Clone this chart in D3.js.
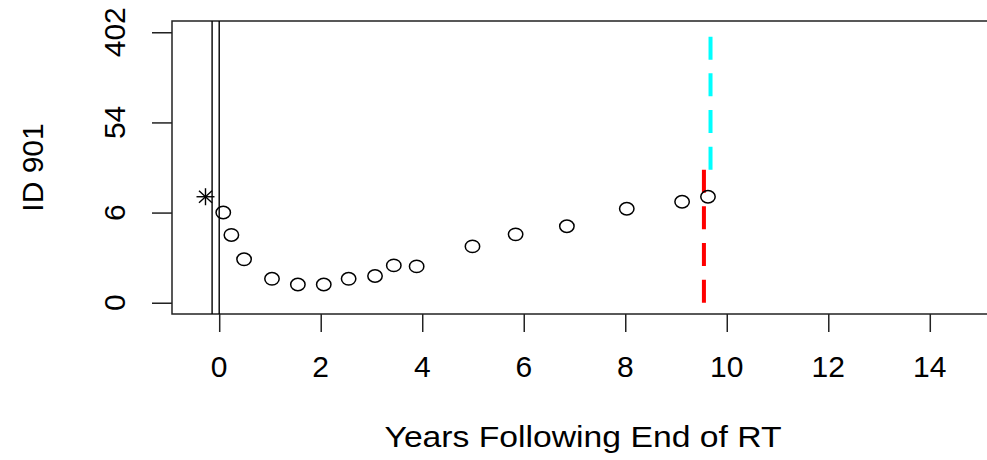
<!DOCTYPE html>
<html>
<head>
<meta charset="utf-8">
<script src="https://cdn.jsdelivr.net/npm/d3@7"></script>
<style>
  html, body { margin: 0; padding: 0; background: #fff; }
  svg { display: block; }
  text { font-family: "Liberation Sans", Arial, sans-serif; fill: #000; }
</style>
</head>
<body>
<div id="chart"></div>
<script>
// PSA follow-up for one patient, years after the end of radiotherapy
const patientId = "ID 901";
const followYears = [0.08, 0.24, 0.49, 1.04, 1.55, 2.06, 2.55, 3.07, 3.44, 3.89, 4.99, 5.84, 6.85, 8.03, 9.12, 9.63];
const psaValues   = [6.4, 3.5, 1.62, 0.70, 0.50, 0.50, 0.70, 0.81, 1.29, 1.24, 2.49, 3.56, 4.45, 7.05, 8.4, 9.5];
const baselineYear = [-0.27];
const baselinePsa  = [9.5];
const rtMarkers = [-0.14, 0];          // start / end of radiotherapy
const eventRed  = { year: 9.55, from: 0,     to: 18.1 };
const eventCyan = { year: 9.68, from: 18.1,  to: 402.4 };
const xTickValues = [0, 2, 4, 6, 8, 10, 12, 14];
const yTickLogs   = [0, 2, 4, 6];
const xTitle = "Years Following End of RT";

const W = 987, H = 460;
const plot = { left: 172, top: 21, right: 1011, bottom: 314 };
const fontSize = 30;

const svg = d3.select("#chart").append("svg")
  .attr("width", W).attr("height", H);

const x = d3.scaleLinear().domain([-0.93, 15.6]).range([plot.left, plot.right]);
const yLog = d3.scaleLinear().domain([-0.25, 6.25]).range([plot.bottom, plot.top]);
const y = v => yLog(Math.log1p(v));

// plot frame
svg.append("rect")
  .attr("x", plot.left).attr("y", plot.top)
  .attr("width", plot.right - plot.left).attr("height", plot.bottom - plot.top)
  .attr("fill", "none").attr("stroke", "#222").attr("stroke-width", 1.5);

// x axis
const xAxis = d3.axisBottom(x).tickValues(xTickValues).tickSize(18).tickPadding(0).tickFormat(d3.format("d"));
const gx = svg.append("g").attr("transform", `translate(0,${plot.bottom})`).call(xAxis);
gx.select(".domain").remove();
gx.selectAll(".tick line").attr("stroke", "#222").attr("stroke-width", 1.5);
gx.selectAll(".tick text").remove();
svg.append("g").selectAll("text").data(xTickValues).join("text")
  .attr("transform", d => `translate(${x(d)},377)`)
  .attr("text-anchor", "middle").attr("font-size", fontSize)
  .text(d => d);

// y axis (log(PSA+1) scale, labelled in PSA units)
const yAxis = d3.axisLeft(yLog).tickValues(yTickLogs).tickSize(20).tickFormat("");
const gy = svg.append("g").attr("transform", `translate(${plot.left},0)`).call(yAxis);
gy.select(".domain").remove();
gy.selectAll(".tick line").attr("stroke", "#222").attr("stroke-width", 1.5);
svg.append("g").selectAll("text").data(yTickLogs).join("text")
  .attr("transform", d => `translate(125,${yLog(d)}) rotate(-90)`)
  .attr("text-anchor", "middle").attr("font-size", fontSize)
  .text(d => Math.round(Math.expm1(d)));

// axis titles
svg.append("text")
  .attr("transform", `translate(583,447)`)
  .attr("text-anchor", "middle").attr("font-size", fontSize)
  .attr("textLength", 397).attr("lengthAdjust", "spacingAndGlyphs")
  .text(xTitle);
svg.append("text")
  .attr("transform", `translate(43,${(plot.top + plot.bottom) / 2}) rotate(-90)`)
  .attr("text-anchor", "middle").attr("font-size", fontSize)
  .text(patientId);

// radiotherapy markers
svg.append("g").selectAll("line").data(rtMarkers).join("line")
  .attr("x1", d => x(d)).attr("x2", d => x(d))
  .attr("y1", plot.top).attr("y2", plot.bottom)
  .attr("stroke", "#000").attr("stroke-width", 1.4);

// event segments
[[eventRed, "#ff0000"], [eventCyan, "#00ffff"]].forEach(([e, c]) => {
  svg.append("line")
    .attr("x1", x(e.year)).attr("x2", x(e.year))
    .attr("y1", y(e.from)).attr("y2", y(e.to))
    .attr("stroke", c).attr("stroke-width", 4)
    .attr("stroke-dasharray", "23,13.7");
});

// PSA observations
svg.append("g").selectAll("ellipse").data(followYears).join("ellipse")
  .attr("cx", d => x(d)).attr("cy", (d, i) => y(psaValues[i]))
  .attr("rx", 7.2).attr("ry", 6.2)
  .attr("fill", "none").attr("stroke", "#000").attr("stroke-width", 1.5);

// pre-treatment baseline (asterisk)
const star = svg.append("g").selectAll("g").data(baselineYear).join("g")
  .attr("transform", (d, i) => `translate(${x(d)},${y(baselinePsa[i])})`);
const arms = [[-9, 0, 9, 0], [0, -8.5, 0, 8.5], [-6.5, -6, 6.5, 6], [-6.5, 6, 6.5, -6]];
arms.forEach(a => {
  star.append("line")
    .attr("x1", a[0]).attr("y1", a[1]).attr("x2", a[2]).attr("y2", a[3])
    .attr("stroke", "#000").attr("stroke-width", 1.4);
});
</script>
</body>
</html>
